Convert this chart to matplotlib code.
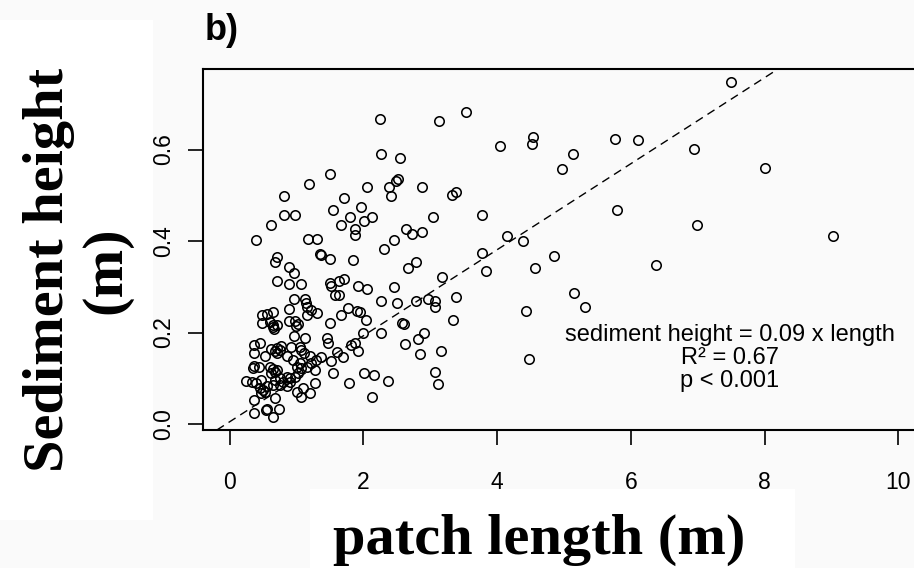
import matplotlib
matplotlib.use("Agg")
import matplotlib.pyplot as plt
from matplotlib.patches import Rectangle

# ---- data ----
length_x = [
    2.25, 3.13, 3.53, 4.05, 2.27, 2.54, 1.50, 1.19, 2.06, 2.38, 2.49, 2.51, 2.41, 2.88, 0.81, 1.71, 3.33, 3.39,
    0.62, 0.81, 0.98, 1.54, 1.97, 1.80, 2.13, 2.01, 1.66, 1.87, 1.87, 3.04, 3.77, 0.39, 1.17, 1.31, 2.64, 2.72,
    2.88, 2.46, 4.14, 4.38, 0.70, 0.67, 1.35, 1.37, 1.50, 1.85, 2.30, 3.77, 3.84, 2.66, 2.78, 3.18, 0.88, 0.96,
    7.50, 4.54, 4.52, 5.76, 6.11, 5.13, 4.97, 6.94, 8.01, 5.79, 6.99, 9.02, 4.85, 4.57, 6.37,
    5.15, 5.31, 4.43, 4.47,
    0.70, 0.88, 1.07, 1.50, 1.51, 1.64, 1.71, 1.57, 1.64, 1.92, 2.06, 2.46, 2.27, 2.50, 2.78, 2.97, 3.07, 3.07,
    3.39, 3.34, 2.58, 2.60, 2.27, 2.90, 2.81, 2.62, 3.16, 2.85, 3.07, 3.11, 1.99, 1.77, 1.90, 1.95, 2.04, 1.66,
    1.50, 1.45, 1.47, 1.82, 1.87, 1.92, 1.60, 1.69, 1.52, 1.55, 1.78, 2.01, 2.16, 2.36, 2.13, 1.36, 1.29, 1.27,
    1.28, 1.20, 1.20, 1.07, 1.00, 1.10, 0.96, 1.12, 1.14, 0.88, 1.15, 1.15, 1.22, 1.31, 0.88, 0.97, 1.02, 0.99,
    0.96, 1.12, 0.49, 0.56, 0.64, 0.49, 0.60, 0.65, 0.66, 0.64, 0.70, 0.36, 0.46, 0.37, 0.52, 0.62, 0.70, 0.77,
    0.75, 0.67, 0.70, 0.86, 0.92, 1.05, 1.07, 1.11, 0.95, 1.05, 1.00, 1.07, 1.15, 1.21, 0.37, 0.35, 0.44, 0.60,
    0.65, 0.67, 0.62, 0.70, 0.25, 0.34, 0.40, 0.47, 0.45, 0.50, 0.52, 0.47, 0.55, 0.67, 0.75, 0.80, 0.85, 0.90,
    0.64, 0.75, 0.67, 0.37, 0.37, 0.54, 0.56, 0.74, 0.65, 0.97, 1.02, 0.90, 0.85,
]
height_y = [
    0.666, 0.662, 0.683, 0.608, 0.590, 0.581, 0.546, 0.525, 0.519, 0.519, 0.532, 0.536, 0.498, 0.519, 0.498, 0.495, 0.501, 0.508,
    0.436, 0.457, 0.457, 0.467, 0.474, 0.453, 0.453, 0.443, 0.436, 0.426, 0.413, 0.453, 0.457, 0.402, 0.405, 0.405, 0.426, 0.416,
    0.419, 0.402, 0.412, 0.399, 0.364, 0.354, 0.372, 0.369, 0.361, 0.358, 0.382, 0.374, 0.334, 0.340, 0.354, 0.321, 0.344, 0.331,
    0.748, 0.628, 0.611, 0.624, 0.621, 0.590, 0.557, 0.601, 0.560, 0.467, 0.436, 0.412, 0.368, 0.340, 0.348,
    0.286, 0.255, 0.248, 0.142,
    0.313, 0.306, 0.306, 0.308, 0.302, 0.313, 0.316, 0.283, 0.283, 0.302, 0.295, 0.300, 0.269, 0.265, 0.269, 0.273, 0.269, 0.255,
    0.278, 0.227, 0.220, 0.218, 0.200, 0.200, 0.186, 0.175, 0.160, 0.152, 0.114, 0.087, 0.200, 0.254, 0.248, 0.244, 0.227, 0.238,
    0.221, 0.189, 0.176, 0.173, 0.176, 0.160, 0.157, 0.146, 0.138, 0.111, 0.090, 0.111, 0.107, 0.094, 0.060, 0.146, 0.140, 0.118,
    0.090, 0.149, 0.067, 0.058, 0.071, 0.079, 0.273, 0.273, 0.264, 0.251, 0.256, 0.238, 0.249, 0.242, 0.225, 0.225, 0.219, 0.214,
    0.192, 0.187, 0.238, 0.240, 0.244, 0.221, 0.224, 0.211, 0.207, 0.216, 0.216, 0.173, 0.176, 0.155, 0.149, 0.163, 0.167, 0.170,
    0.162, 0.160, 0.155, 0.149, 0.168, 0.169, 0.162, 0.155, 0.140, 0.133, 0.125, 0.122, 0.125, 0.133, 0.127, 0.122, 0.125, 0.125,
    0.120, 0.114, 0.111, 0.118, 0.094, 0.092, 0.089, 0.096, 0.078, 0.074, 0.071, 0.067, 0.082, 0.096, 0.100, 0.092, 0.103, 0.100,
    0.085, 0.085, 0.056, 0.052, 0.023, 0.031, 0.032, 0.032, 0.016, 0.103, 0.111, 0.092, 0.082,
]
fit_intercept = 0.005
fit_slope = 0.094

x_ticks = [0, 2, 4, 6, 8, 10]
x_tick_labels = ["0", "2", "4", "6", "8", "10"]
y_ticks = [0.0, 0.2, 0.4, 0.6]
y_tick_labels = ["0.0", "0.2", "0.4", "0.6"]

annotation = "sediment height = 0.09 x length\nR\u00b2 = 0.67\np < 0.001"
panel_label = "b)"
x_label = "patch length (m)"
y_label = "Sediment height\n(m)"

# ---- figure ----
W, H = 914, 568
BG = "#fafafa"
fig = plt.figure(figsize=(W / 100, H / 100), dpi=100, facecolor=BG)

def px_rect(x0, y0, x1, y1, color="white"):
    fig.patches.append(Rectangle((x0 / W, 1 - y1 / H), (x1 - x0) / W, (y1 - y0) / H,
                                 transform=fig.transFigure, facecolor=color,
                                 edgecolor="none", zorder=0))

px_rect(0, 20, 153, 520)
px_rect(310, 489, 795, 568)

ax = fig.add_axes([203 / W, 138 / H, 722 / W, 361 / H])
ax.set_facecolor(BG)
ax.set_xlim(-0.4, 10.4)
ax.set_ylim(-0.0131, 0.776)

ax.plot(length_x, height_y, linestyle="none", marker="o", markersize=6.8,
        markerfacecolor="none", markeredgecolor="black", markeredgewidth=1.15)
ax.axline((0, fit_intercept), slope=fit_slope, color="black", linewidth=1.0,
          linestyle=(0, (6, 4)))

for s in ax.spines.values():
    s.set_linewidth(1.5)

ax.set_xticks(x_ticks)
ax.set_xticklabels(x_tick_labels)
ax.set_yticks(y_ticks)
ax.set_yticklabels(y_tick_labels, rotation=90, va="center")
ax.tick_params(axis="x", length=10.8, width=1.2, pad=19, labelsize=16.5,
               labelfontfamily="Liberation Sans")
ax.tick_params(axis="y", length=10.8, width=1.2, pad=9, labelsize=16.5,
               labelfontfamily="Liberation Sans")

ax.text((730 - 230) / 66.85, (424 - 358) / 457.5, annotation, ha="center", va="center",
        fontsize=17, family="Liberation Sans", linespacing=1.08)

fig.text(205 / W, 1 - 40 / H, panel_label, fontsize=26, fontweight="bold",
         family="Liberation Sans", ha="left", va="baseline")
fig.text(77.5 / W, 1 - 270 / H, y_label, fontsize=42, fontweight="bold",
         family="Liberation Serif", rotation=90, ha="center", va="center",
         multialignment="center", linespacing=1.12)
fig.text(539 / W, 1 - 540 / H, x_label, fontsize=42, fontweight="bold",
         family="Liberation Serif", ha="center", va="center")

fig.savefig("out.png", dpi=100, facecolor=fig.get_facecolor())
